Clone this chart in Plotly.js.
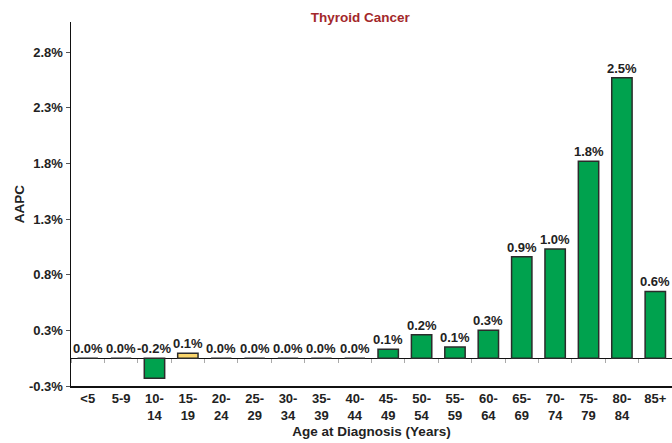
<!DOCTYPE html>
<html>
<head>
<meta charset="utf-8">
<script src="https://cdn.plot.ly/plotly-3.0.1.min.js"></script>
<style>html,body{margin:0;padding:0;background:#fff;}#chart{width:672px;height:443px;}</style>
</head>
<body>
<div id="chart"></div>
<script>
// Data
const ageGroups = ["<5","5-9","10-14","15-19","20-24","25-29","30-34","35-39","40-44","45-49","50-54","55-59","60-64","65-69","70-74","75-79","80-84","85+"];
const tickLabels = ["<5","5-9","10-<br>14","15-<br>19","20-<br>24","25-<br>29","30-<br>34","35-<br>39","40-<br>44","45-<br>49","50-<br>54","55-<br>59","60-<br>64","65-<br>69","70-<br>74","75-<br>79","80-<br>84","85+"];
const aapcValues = [0, 0, -0.18, 0.045, 0, 0, 0, 0, 0, 0.08, 0.21, 0.10, 0.25, 0.91, 0.98, 1.77, 2.52, 0.60];
const aapcLabels = ["0.0%","0.0%","-0.2%","0.1%","0.0%","0.0%","0.0%","0.0%","0.0%","0.1%","0.2%","0.1%","0.3%","0.9%","1.0%","1.8%","2.5%","0.6%"];
const significant = [true,true,true,false,true,true,true,true,true,true,true,true,true,true,true,true,true,true];
const yTickVals = [-0.25, 0.25, 0.75, 1.25, 1.75, 2.25, 2.75];
const yTickText = ["-0.3%","0.3%","0.8%","1.3%","1.8%","2.3%","2.8%"];

const GREEN = "#00A24E", YELLOW = "#F9D56B";
const FONT = "'Liberation Sans',Arial,sans-serif";
const yRange = [-0.25, 3.02];
const xRange = [-0.5, ageGroups.length - 0.5];
const zeroPos = (0 - yRange[0]) / (yRange[1] - yRange[0]);
const boldify = s => "<b>" + s + "</b>";

const traces = [
  {
    type: "bar", x: ageGroups, y: aapcValues,
    marker: {color: significant.map(s => s ? GREEN : YELLOW), line: {color: "#2b2b2b", width: 1.5}},
    hoverinfo: "x+y", showlegend: false
  },
  {
    type: "scatter", mode: "markers", x: ageGroups, y: aapcValues, xaxis: "x2",
    marker: {opacity: 0}, hoverinfo: "skip", showlegend: false
  }
];

const annotations = ageGroups.map((g, i) => ({
  x: g, y: Math.max(aapcValues[i], 0), xref: "x", yref: "y",
  text: boldify(aapcLabels[i]), showarrow: false, yanchor: "bottom", yshift: 0,
  font: {family: FONT, size: 13, color: "#222"}
}));

const layout = {
  width: 672, height: 443,
  margin: {l: 71, r: 0, t: 21.5, b: 57.3},
  paper_bgcolor: "#fff", plot_bgcolor: "#fff",
  bargap: 0.39,
  font: {family: FONT, size: 13, color: "#222"},
  title: {text: "<b>Thyroid Cancer</b>", x: 0.536, xref: "container", xanchor: "center",
          y: 0.962, yref: "container", yanchor: "middle",
          font: {family: FONT, size: 13.5, color: "#A3282B"}},
  xaxis: {
    type: "category", categoryorder: "array", categoryarray: ageGroups, range: xRange,
    tickvals: ageGroups, ticktext: tickLabels.map(boldify), ticks: "", showline: true, linecolor: "#111", linewidth: 1.5,
    showgrid: false, zeroline: false,
    tickfont: {family: FONT, size: 13, color: "#222"},
    title: {text: "<b>Age at Diagnosis (Years)</b>", standoff: 4, font: {family: FONT, size: 13.5, color: "#222"}}
  },
  xaxis2: {
    type: "category", categoryorder: "array", categoryarray: ageGroups, overlaying: "x", range: xRange,
    anchor: "free", position: zeroPos, side: "bottom",
    ticks: "outside", tickson: "boundaries", ticklen: 4, tickcolor: "#aaa", tickwidth: 1,
    showticklabels: false, showline: false, showgrid: false, zeroline: false
  },
  yaxis: {
    range: yRange, tickvals: yTickVals, ticktext: yTickText.map(boldify),
    ticks: "outside", ticklen: 4, tickcolor: "#555", showline: true, linecolor: "#111", linewidth: 1.5,
    showgrid: false, zeroline: true, zerolinecolor: "#111", zerolinewidth: 1.2,
    tickfont: {family: FONT, size: 13, color: "#222"},
    title: {text: "<b>AAPC</b>", standoff: 1, font: {family: FONT, size: 13.5, color: "#222"}}
  },
  annotations: annotations
};
Plotly.newPlot("chart", traces, layout, {displayModeBar: false, staticPlot: true});
</script>
</body>
</html>
